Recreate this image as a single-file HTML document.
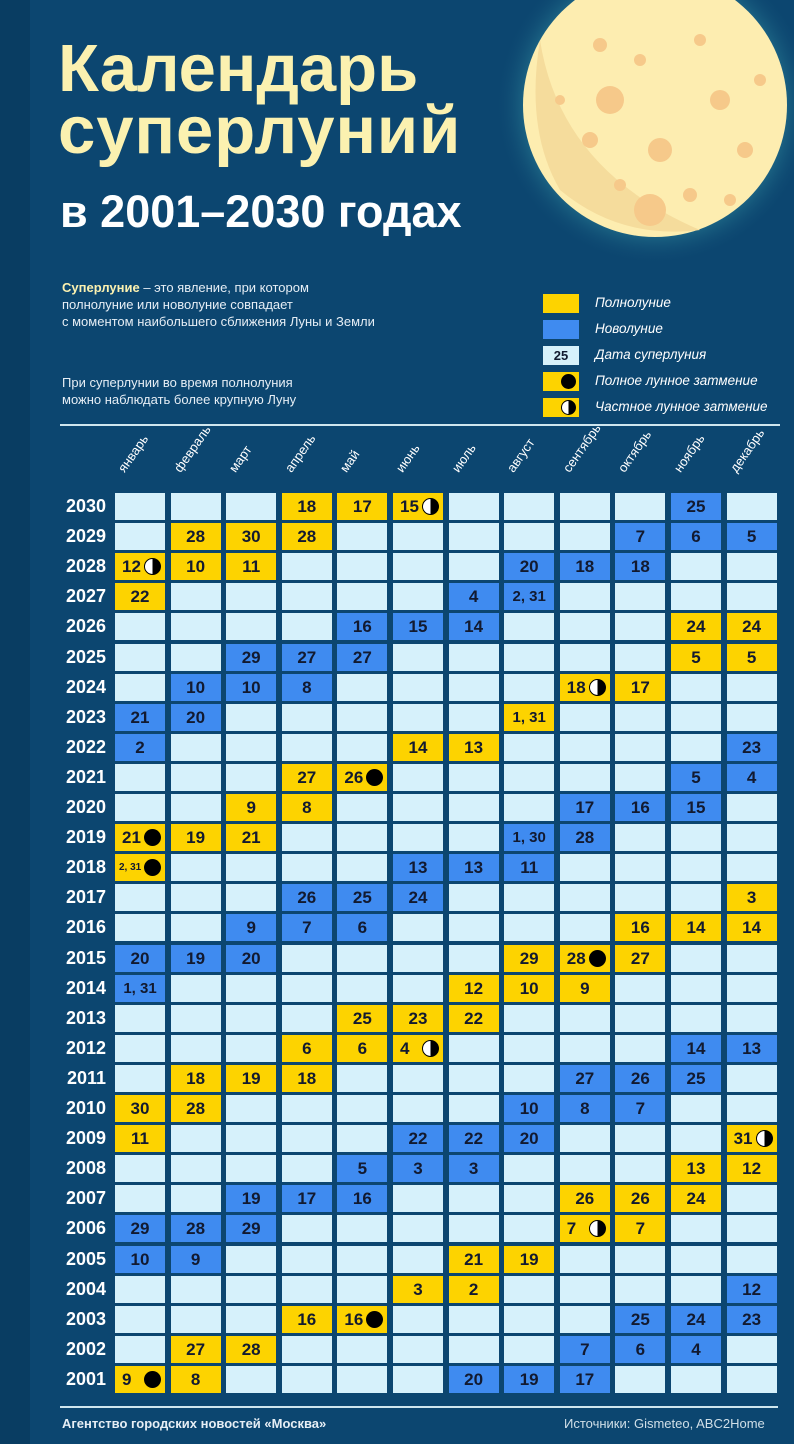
<!DOCTYPE html>
<html><head><meta charset="utf-8">
<style>
*{margin:0;padding:0;box-sizing:border-box}
body{width:794px;height:1444px;background:#0c4670;font-family:"Liberation Sans",sans-serif;position:relative;overflow:hidden}
.strip{position:absolute;left:0;top:0;width:30px;height:1444px;background:#093d62}
.t{position:absolute;white-space:nowrap}
.cell{position:absolute;width:50px;height:27px;background:#d6f1fb;color:#121a30;font-weight:bold;font-size:17px;text-align:center;line-height:27px}
.Y{background:#fdd300}.B{background:#3f8bf0}
.yr{position:absolute;left:40px;width:66px;text-align:right;color:#fff;font-weight:bold;font-size:18px}
.mo{position:absolute;color:#fff;font-size:13px;transform:rotate(-55deg);transform-origin:left bottom}
.ecl{position:absolute;right:4px;top:5px;width:17px;height:17px;border-radius:50%;background:#000}
.par{position:absolute;right:4px;top:5px;width:17px;height:17px;border-radius:50%;background:linear-gradient(90deg,#fff 50%,#000 50%);border:1.5px solid #000}
.lg{position:absolute;left:543px;width:36px;height:19px}
.lt{position:absolute;left:595px;color:#fff;font-style:italic;font-size:13.5px}
</style></head><body>
<div class="strip"></div>
<svg style="position:absolute;left:0;top:0" width="794" height="300">
<defs><radialGradient id="glow" cx="0.5" cy="0.5" r="0.5"><stop offset="0.8" stop-color="#2a7f95" stop-opacity="0.6"/><stop offset="1" stop-color="#0c4670" stop-opacity="0"/></radialGradient></defs>
<circle cx="655" cy="105" r="160" fill="url(#glow)"/>
<circle cx="655" cy="105" r="132" fill="#fdedb0"/>
<path d="M540,40 Q560,170 700,230 Q620,240 560,190 Q525,130 540,40Z" fill="#f5dc9c"/>
<g fill="#f6c98a">
<circle cx="610" cy="100" r="14"/><circle cx="660" cy="150" r="12"/><circle cx="650" cy="210" r="16"/><circle cx="720" cy="100" r="10"/><circle cx="600" cy="45" r="7"/><circle cx="640" cy="60" r="6"/><circle cx="700" cy="40" r="6"/><circle cx="590" cy="140" r="8"/><circle cx="690" cy="195" r="7"/><circle cx="745" cy="150" r="8"/><circle cx="620" cy="185" r="6"/><circle cx="760" cy="80" r="6"/><circle cx="730" cy="200" r="6"/><circle cx="560" cy="100" r="5"/>
</g></svg>
<div class="t" style="left:58px;top:36px;font-size:67px;font-weight:bold;color:#fbf1b0;line-height:66px">Календарь</div>
<div class="t" style="left:58px;top:98px;font-size:67px;font-weight:bold;color:#fbf1b0;line-height:66px;letter-spacing:1px">суперлуний</div>
<div class="t" style="left:60px;top:188px;font-size:45px;font-weight:bold;color:#fff;line-height:48px">в 2001–2030 годах</div>
<div class="t" style="left:62px;top:279px;font-size:13px;color:#e6eef5;line-height:17px"><b style="color:#fbf1b0">Суперлуние</b> – это явление, при котором<br>полнолуние или новолуние совпадает<br>с моментом наибольшего сближения Луны и Земли</div>
<div class="t" style="left:62px;top:374px;font-size:13px;color:#e6eef5;line-height:17px">При суперлунии во время полнолуния<br>можно наблюдать более крупную Луну</div>
<div class="lg" style="top:294px;background:#fdd300"></div><div class="lt" style="top:295px">Полнолуние</div>
<div class="lg" style="top:320px;background:#3f8bf0"></div><div class="lt" style="top:321px">Новолуние</div>
<div class="lg" style="top:346px;background:#d6f1fb;font-size:13px;font-weight:bold;text-align:center;line-height:19px;color:#121a30">25</div><div class="lt" style="top:347px">Дата суперлуния</div>
<div class="lg" style="top:372px;background:#fdd300"><div class="ecl" style="top:2px;right:3px;width:15px;height:15px"></div></div><div class="lt" style="top:373px">Полное лунное затмение</div>
<div class="lg" style="top:398px;background:#fdd300"><div class="par" style="top:2px;right:3px;width:15px;height:15px"></div></div><div class="lt" style="top:399px">Частное лунное затмение</div>
<div style="position:absolute;left:60px;top:424px;width:720px;height:2px;background:#cfe6ee"></div>
<div style="position:absolute;left:60px;top:1406px;width:718px;height:2px;background:#cfe6ee"></div>
<div class="t" style="left:62px;top:1416px;font-size:13px;font-weight:bold;color:#e6eef5">Агентство городских новостей «Москва»</div>
<div class="t" style="left:564px;top:1416px;font-size:13px;color:#d0dfe8">Источники: Gismeteo, ABC2Home</div>
<div id="gridbox"></div>
<script>
var months=["январь","февраль","март","апрель","май","июнь","июль","август","сентябрь","октябрь","ноябрь","декабрь"];
var d={
2030:"3Y18 4Y17 5Y15p 10B25",2029:"1Y28 2Y30 3Y28 9B7 10B6 11B5",2028:"0Y12p 1Y10 2Y11 7B20 8B18 9B18",
2027:"0Y22 6B4 7B2,_31",2026:"4B16 5B15 6B14 10Y24 11Y24",2025:"2B29 3B27 4B27 10Y5 11Y5",
2024:"1B10 2B10 3B8 8Y18p 9Y17",2023:"0B21 1B20 7Y1,_31",2022:"0B2 5Y14 6Y13 11B23",
2021:"3Y27 4Y26f 10B5 11B4",2020:"2Y9 3Y8 8B17 9B16 10B15",2019:"0Y21f 1Y19 2Y21 7B1,_30 8B28",
2018:"0Y2,_31f 5B13 6B13 7B11",2017:"3B26 4B25 5B24 11Y3",2016:"2B9 3B7 4B6 9Y16 10Y14 11Y14",
2015:"0B20 1B19 2B20 7Y29 8Y28f 9Y27",2014:"0B1,_31 6Y12 7Y10 8Y9",2013:"4Y25 5Y23 6Y22",
2012:"3Y6 4Y6 5Y4p 10B14 11B13",2011:"1Y18 2Y19 3Y18 8B27 9B26 10B25",2010:"0Y30 1Y28 7B10 8B8 9B7",
2009:"0Y11 5B22 6B22 7B20 11Y31p",2008:"4B5 5B3 6B3 10Y13 11Y12",2007:"2B19 3B17 4B16 8Y26 9Y26 10Y24",
2006:"0B29 1B28 2B29 8Y7p 9Y7",2005:"0B10 1B9 6Y21 7Y19",2004:"5Y3 6Y2 11B12",
2003:"3Y16 4Y16f 9B25 10B24 11B23",2002:"1Y27 2Y28 8B7 9B6 10B4",2001:"0Y9f 1Y8 6B20 7B19 8B17"};
var h="";
for(var m=0;m<12;m++){var x=115+m*55.6+12;h+='<div class="mo" style="left:'+x+'px;top:460px">'+months[m]+'</div>';}
for(var i=0;i<30;i++){var yr=2030-i,y=493+i*30.1;
h+='<div class="yr" style="top:'+(y+3)+'px">'+yr+'</div>';
var cells={};d[yr].split(" ").forEach(function(s){var r=s.match(/^(\d+)([YB])(.*?)([pf]?)$/);cells[r[1]]={c:r[2],t:r[3].replace("_"," "),e:r[4]};});
for(var m=0;m<12;m++){var x=115+m*55.6,c=cells[m];
if(!c){h+='<div class="cell" style="left:'+x+'px;top:'+y+'px"></div>';continue;}
var txt=c.t,st="";
if(c.e){st="text-align:left;padding-left:"+(txt.length>3?4:7)+"px;";if(txt.length>3)st+="font-size:10px;";}
else if(txt.length>3)st="font-size:15px;";
h+='<div class="cell '+c.c+'" style="left:'+x+'px;top:'+y+'px;'+st+'">'+txt+(c.e=="f"?'<div class="ecl"></div>':c.e=="p"?'<div class="par"></div>':'')+'</div>';}}
document.getElementById("gridbox").innerHTML=h;
</script>
</body></html>
